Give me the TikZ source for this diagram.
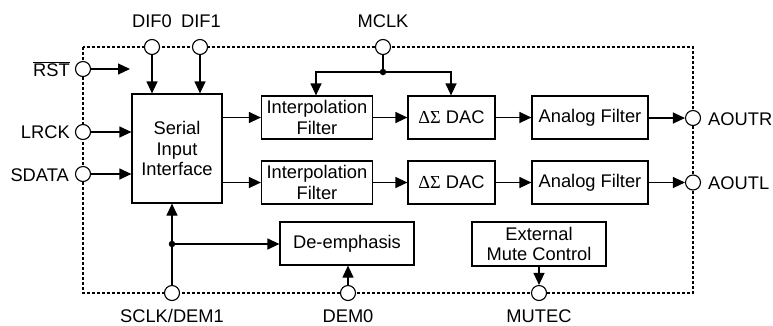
\documentclass[tikz,border=0pt]{standalone}
\usepackage{fontspec}
\setmainfont{Liberation Sans}
\newfontfamily\grk{Liberation Serif}
\usetikzlibrary{arrows.meta}
\begin{document}
\begin{tikzpicture}[x=1pt,y=-1pt,
 txt/.style={font=\fontsize{18.3}{20.5}\selectfont},
 blk/.style={txt,draw,line width=1.2pt,inner sep=0pt,align=center},
 pin/.style={circle,draw,fill=white,line width=1.1pt,minimum size=15pt,inner sep=0pt},
 lbl/.style={txt,inner sep=0pt},
 sig/.style={line width=1.2pt,-{Triangle[length=12pt,width=11pt]}},
 wire/.style={line width=1.2pt},
 jdot/.style={circle,fill,inner sep=0pt,minimum size=6.5pt},
 frame/.style={line width=1.1pt,dash pattern=on 3pt off 2pt}]
\useasboundingbox (0,0) rectangle (773,325);
% frame
\draw[frame] (83,47) rectangle (693,293);
% blocks
\node[blk,minimum width=90pt,minimum height=109pt] (ser) at (177,148.5) {Serial\\Input\\Interface};
\node[blk,minimum width=111pt,minimum height=43pt] (ip1) at (317,117.5) {Interpolation\\Filter};
\node[blk,minimum width=111pt,minimum height=43pt] (ip2) at (317,182.5) {Interpolation\\Filter};
\node[blk,minimum width=87pt,minimum height=43pt] (dac1) at (451.5,117.5) {{\grk ΔΣ} DAC};
\node[blk,minimum width=87pt,minimum height=43pt] (dac2) at (451.5,182.5) {{\grk ΔΣ} DAC};
\node[blk,minimum width=116pt,minimum height=43pt] (af1) at (590,117.5) {Analog Filter};
\node[blk,minimum width=116pt,minimum height=43pt] (af2) at (590,182.5) {Analog Filter};
\node[blk,minimum width=134pt,minimum height=43pt] (dem) at (347,243.5) {De-emphasis};
\node[blk,minimum width=134pt,minimum height=44pt] (mute) at (539,244) {External\\Mute Control};
% pins
\node[pin] (dif0) at (152,47) {};
\node[pin] (dif1) at (200,47) {};
\node[pin] (mclk) at (383,47) {};
\node[pin] (rst) at (83,69) {};
\node[pin] (lrck) at (83,132) {};
\node[pin] (sdata) at (83,174) {};
\node[pin] (aoutr) at (693,118) {};
\node[pin] (aoutl) at (693,182.5) {};
\node[pin] (sclk) at (172,293) {};
\node[pin] (dem0) at (348,293) {};
\node[pin] (mutec) at (539,293) {};
% pin labels
\node[lbl,anchor=base] at (152,27) {DIF0};
\node[lbl,anchor=base] at (201,27) {DIF1};
\node[lbl,anchor=base] at (383,27) {MCLK};
\node[lbl,anchor=base east] at (70,76) {$\overline{\mbox{RST}}$};
\node[lbl,anchor=base east] at (70,138) {LRCK};
\node[lbl,anchor=base east] at (69,181) {SDATA};
\node[lbl,anchor=base west] at (708,125) {AOUTR};
\node[lbl,anchor=base west] at (708,189) {AOUTL};
\node[lbl,anchor=base] at (172,322) {SCLK/DEM1};
\node[lbl,anchor=base] at (348,322) {DEM0};
\node[lbl,anchor=base] at (539,322) {MUTEC};
% junctions
\node[jdot] (mj) at (383,72) {};
\node[jdot] (sj) at (172,244) {};
\coordinate (rstend) at (130,69);
\coordinate (ml) at (316,72);
\coordinate (mr) at (451,72);
% connectors
\draw[sig] (rst) -- (rstend);
\draw[sig] (lrck) -- (lrck -| ser.west);
\draw[sig] (sdata) -- (sdata -| ser.west);
\draw[sig] (dif0) -- (dif0 |- ser.north);
\draw[sig] (dif1) -- (dif1 |- ser.north);
\draw[sig] (ser.east |- ip1) -- (ip1);
\draw[sig] (ser.east |- ip2) -- (ip2);
\draw[sig] (ip1) -- (dac1);
\draw[sig] (ip2) -- (dac2);
\draw[sig] (dac1) -- (af1);
\draw[sig] (dac2) -- (af2);
\draw[sig] (af1.east |- aoutr) -- (aoutr);
\draw[sig] (af2.east |- aoutl) -- (aoutl);
\draw[wire] (mclk) -- (mj);
\draw[sig] (mj.center) -- (ml) -- (ml |- ip1.north);
\draw[sig] (mj.center) -- (mr) -- (mr |- dac1.north);
\draw[sig] (sclk) -- (sclk |- ser.south);
\draw[sig] (sj.center) -- (sj -| dem.west);
\draw[sig] (dem0) -- (dem0 |- dem.south);
\draw[sig] (mute) -- (mutec);
\end{tikzpicture}
\end{document}
